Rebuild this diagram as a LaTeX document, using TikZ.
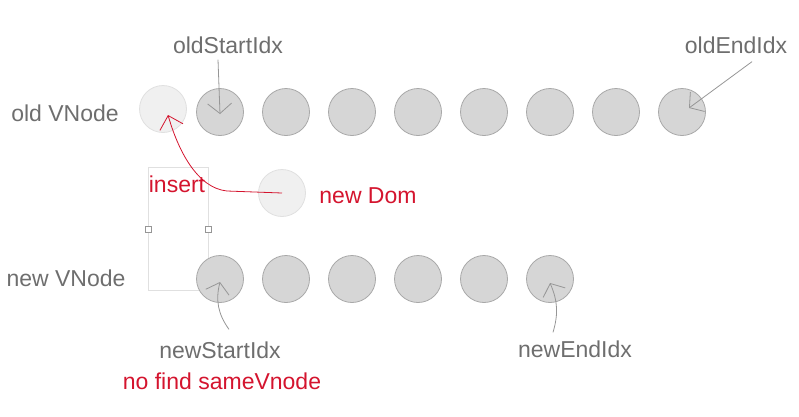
\documentclass[tikz,border=0pt]{standalone}
\usepackage{fontspec}
\setmainfont{Liberation Sans}
\usetikzlibrary{arrows.meta}
\definecolor{nodefill}{RGB}{214,214,214}
\definecolor{nodeedge}{RGB}{168,168,168}
\definecolor{ghostfill}{RGB}{240,240,240}
\definecolor{ghostedge}{RGB}{224,224,224}
\definecolor{labelgray}{RGB}{110,110,110}
\definecolor{arrowgray}{RGB}{150,150,150}
\definecolor{markred}{RGB}{212,20,46}

\begin{document}
\begin{tikzpicture}[x=1pt,y=-1pt,
    vnode/.style={circle,draw=nodeedge,fill=nodefill,minimum size=47pt,inner sep=0pt,line width=0.8pt},
    ghost/.style={circle,draw=ghostedge,fill=ghostfill,minimum size=47pt,inner sep=0pt,line width=0.8pt},
    lbl/.style={text=labelgray,font=\fontsize{23}{27}\selectfont,inner sep=0pt},
    redlbl/.style={text=markred,font=\fontsize{23}{27}\selectfont,inner sep=0pt},
    idx/.style={draw=arrowgray,line width=0.8pt,-{Straight Barb[length=10pt,width=24pt]}},
    insarrow/.style={draw=markred,line width=0.8pt,-{Straight Barb[length=12pt,width=24pt]}},
    selbox/.style={draw=ghostedge,line width=0.8pt},
    handle/.style={draw=arrowgray,fill=white,minimum size=6pt,inner sep=0pt,line width=0.6pt}]
    \useasboundingbox (0,0) rectangle (799,416);

    % row labels
    \node[lbl] (oldlbl) at (65,113) {old VNode};
    \node[lbl] (newlbl) at (66,278) {new VNode};

    % selection box
    \draw[selbox] (148,167) rectangle (208,290);
    \node[handle] (hleft) at (148,229) {};
    \node[handle] (hright) at (208,229) {};

    % old and new vnodes
    \node[ghost] (ghost) at (163,109) {};
    \foreach \i in {1,...,8}
        \node[vnode] (o\i) at ({220+66*(\i-1)},112) {};
    \foreach \i in {1,...,6}
        \node[vnode] (n\i) at ({220+66*(\i-1)},279) {};
    \node[ghost] (dom) at (282,193) {};

    % index labels
    \node[lbl] (ostart) at (228,45) {oldStartIdx};
    \node[lbl] (oend) at (736,45) {oldEndIdx};
    \node[lbl] (nstart) at (220,350) {newStartIdx};
    \node[lbl] (nend) at (575,349) {newEndIdx};
    \node[redlbl] (nofind) at (222,381) {no find sameVnode};
    \node[redlbl] (ins) at (177,184) {insert};
    \node[redlbl] (newdom) at (368,196) {new Dom};

    % pointers
    \draw[idx] (ostart.south) ++(-10,6) -- ([yshift=-2pt]o1.center);
    \draw[idx] (oend.south) ++(16,8) -- ([xshift=7pt,yshift=4pt]o8.center);
    \draw[idx] (nstart.north) ++(9,-12) to[bend left=25] ([yshift=-3pt]n1.center);
    \draw[idx] (nend.north) ++(-22,-8) to[bend right=20] ([yshift=-4pt]n6.center);

    % insert move
    \draw[insarrow] (dom.center) -- ++(-55,-2) .. controls +(-30,-3) and +(10,35) .. ([xshift=5pt,yshift=-6pt]ghost.center);
\end{tikzpicture}
\end{document}
